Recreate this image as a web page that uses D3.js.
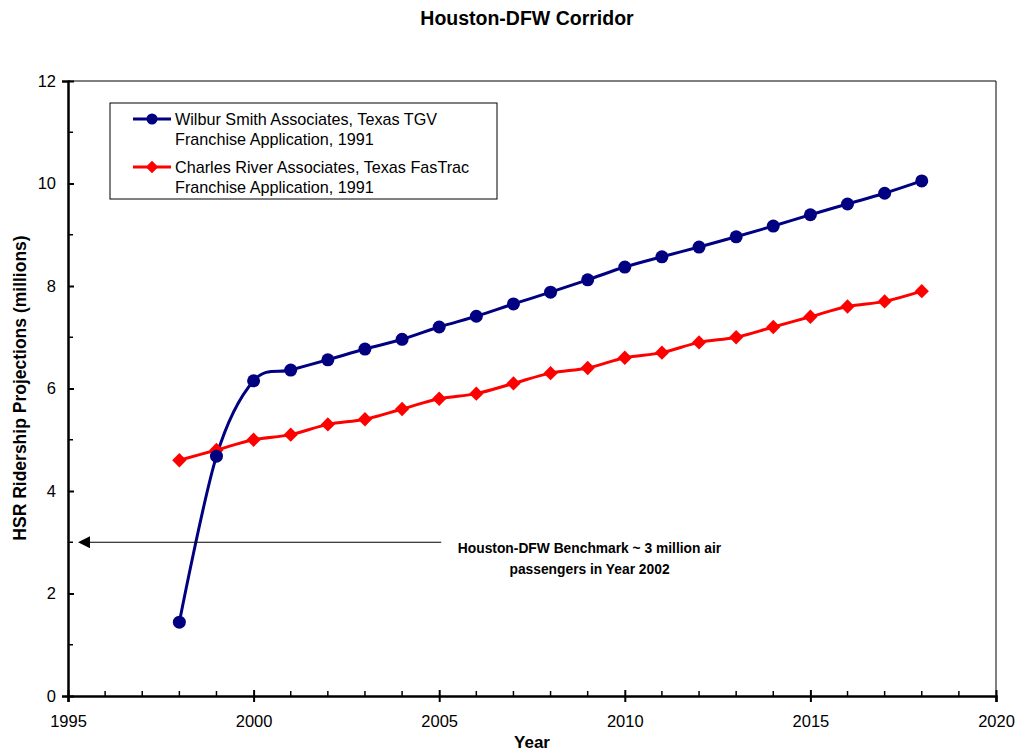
<!DOCTYPE html>
<html>
<head>
<meta charset="utf-8">
<script src="https://cdn.jsdelivr.net/npm/d3@7"></script>
<style>
  body { margin: 0; background: #fff; }
  text { font-family: Arial, "Liberation Sans", sans-serif; fill: #000; }
</style>
</head>
<body>
<script>
// data
var years = d3.range(1998, 2019);
var wilburSmith = [1.44, 4.68, 6.15, 6.36, 6.56, 6.77, 6.96, 7.2, 7.41, 7.65, 7.88,
                   8.12, 8.37, 8.57, 8.76, 8.96, 9.17, 9.39, 9.6, 9.81, 10.05];
var charlesRiver = [4.6, 4.8, 5.0, 5.1, 5.3, 5.4, 5.6, 5.8, 5.9, 6.1, 6.3,
                    6.4, 6.6, 6.7, 6.9, 7.0, 7.2, 7.4, 7.6, 7.7, 7.9];
var xTicks = [1995, 2000, 2005, 2010, 2015, 2020];
var yTicks = [0, 2, 4, 6, 8, 10, 12];
var benchmark = 3;
var seriesNames = [
  ["Wilbur Smith Associates, Texas TGV", "Franchise Application, 1991"],
  ["Charles River Associates, Texas FasTrac", "Franchise Application, 1991"]
];

var width = 1017, height = 753;
var margin = {left: 68, right: 21, top: 81, bottom: 57};
var w = width - margin.left - margin.right;
var h = height - margin.top - margin.bottom;

var svg = d3.select("body").append("svg").attr("width", width).attr("height", height);

var x = d3.scaleLinear().domain([1995, 2020]).range([0, w]);
var y = d3.scaleLinear().domain([0, 12]).range([h, 0]);

var g = svg.append("g").attr("transform", "translate(" + margin.left + "," + margin.top + ")");

// plot frame (top + right)
g.append("path").attr("d", "M0,0H" + w + "V" + h)
  .attr("fill", "none").attr("stroke", "#000").attr("stroke-width", 1);

// minor ticks
g.selectAll(".xminor").data(d3.range(1995, 2021).filter(function(d){ return d % 5 !== 0; }))
  .enter().append("line")
  .attr("x1", function(d){ return x(d); }).attr("x2", function(d){ return x(d); })
  .attr("y1", h).attr("y2", h - 5).attr("stroke", "#000").attr("stroke-width", 1.5);
g.selectAll(".yminor").data([1, 3, 5, 7, 9, 11])
  .enter().append("line")
  .attr("y1", function(d){ return y(d); }).attr("y2", function(d){ return y(d); })
  .attr("x1", 0).attr("x2", 5).attr("stroke", "#000").attr("stroke-width", 1.5);

// axes
var xAxis = d3.axisBottom(x).tickValues(xTicks).tickFormat(d3.format("d")).tickSize(6).tickPadding(13);
var yAxis = d3.axisLeft(y).tickValues(yTicks).tickSize(6).tickPadding(6);

var gx = g.append("g").attr("transform", "translate(0," + h + ")").call(xAxis);
var gy = g.append("g").call(yAxis);
[gx, gy].forEach(function(a){
  a.select(".domain").attr("stroke-width", 2.5);
  a.selectAll(".tick line").attr("stroke-width", 2);
  a.selectAll(".tick text").style("font-size", "16.5px").style("font-family", "Arial, 'Liberation Sans', sans-serif");
});
gx.selectAll(".tick line").attr("y1", -6);
gy.selectAll(".tick line").attr("x2", 6);

// lines
var line = d3.line()
  .x(function(d){ return x(d[0]); })
  .y(function(d){ return y(d[1]); })
  .curve(d3.curveCatmullRom.alpha(0));

var ws = years.map(function(d, i){ return [d, wilburSmith[i]]; });
var cr = years.map(function(d, i){ return [d, charlesRiver[i]]; });

g.append("path").attr("d", line(cr)).attr("fill", "none").attr("stroke", "#ff0000").attr("stroke-width", 3);
g.append("path").attr("d", line(ws)).attr("fill", "none").attr("stroke", "#000080").attr("stroke-width", 3);

var diamond = d3.symbol().type(d3.symbolDiamond2).size(130);
g.selectAll(".cr").data(cr).enter().append("path")
  .attr("d", diamond)
  .attr("transform", function(d){ return "translate(" + x(d[0]) + "," + y(d[1]) + ")"; })
  .attr("fill", "#ff0000");
g.selectAll(".ws").data(ws).enter().append("circle")
  .attr("cx", function(d){ return x(d[0]); })
  .attr("cy", function(d){ return y(d[1]); })
  .attr("r", 6.5).attr("fill", "#000080");

// benchmark arrow
svg.append("defs").append("marker").attr("id", "arrow")
  .attr("viewBox", "0 0 10 10").attr("refX", 0).attr("refY", 5)
  .attr("markerWidth", 12).attr("markerHeight", 12).attr("markerUnits", "userSpaceOnUse")
  .attr("orient", "auto-start-reverse")
  .append("path").attr("d", "M0,0L10,5L0,10Z").attr("fill", "#000");
g.append("line")
  .attr("x1", x(2005) + 2).attr("x2", x(1995) + 22)
  .attr("y1", y(benchmark)).attr("y2", y(benchmark))
  .attr("stroke", "#000").attr("stroke-width", 1.2)
  .attr("marker-end", "url(#arrow)");
var note = g.append("text").attr("x", x(2009.05)).attr("y", y(benchmark) + 11)
  .attr("text-anchor", "middle").style("font-size", "13.8px").style("font-weight", "bold");
note.append("tspan").attr("x", x(2009.05)).text("Houston-DFW Benchmark ~ 3 million air");
note.append("tspan").attr("x", x(2009.05)).attr("dy", 21).text("passengers in Year 2002");

// legend
var lg = svg.append("g").attr("transform", "translate(110,103)");
lg.append("rect").attr("width", 387).attr("height", 96)
  .attr("fill", "#fff").attr("stroke", "#000").attr("stroke-width", 1);
var colors = ["#000080", "#ff0000"];
seriesNames.forEach(function(n, i){
  var yy = 16 + i * 48;
  lg.append("line").attr("x1", 23).attr("x2", 61).attr("y1", yy).attr("y2", yy)
    .attr("stroke", colors[i]).attr("stroke-width", 3);
  if (i === 0) {
    lg.append("circle").attr("cx", 42).attr("cy", yy).attr("r", 5.5).attr("fill", colors[i]);
  } else {
    lg.append("path").attr("d", d3.symbol().type(d3.symbolDiamond2).size(100))
      .attr("transform", "translate(42," + yy + ")").attr("fill", colors[i]);
  }
  var t = lg.append("text").attr("x", 65).attr("y", yy + 6).style("font-size", "16.2px");
  t.append("tspan").attr("x", 65).text(n[0]);
  t.append("tspan").attr("x", 65).attr("dy", 20).text(n[1]);
});

// titles
svg.append("text").attr("x", 527).attr("y", 25).attr("text-anchor", "middle")
  .style("font-size", "19.5px").style("font-weight", "bold").text("Houston-DFW Corridor");
svg.append("text").attr("x", 532).attr("y", 748).attr("text-anchor", "middle")
  .style("font-size", "17px").style("font-weight", "bold").text("Year");
svg.append("text").attr("transform", "translate(26,388) rotate(-90)").attr("text-anchor", "middle")
  .style("font-size", "17.5px").style("font-weight", "bold").text("HSR Ridership Projections (millions)");
</script>
</body>
</html>
